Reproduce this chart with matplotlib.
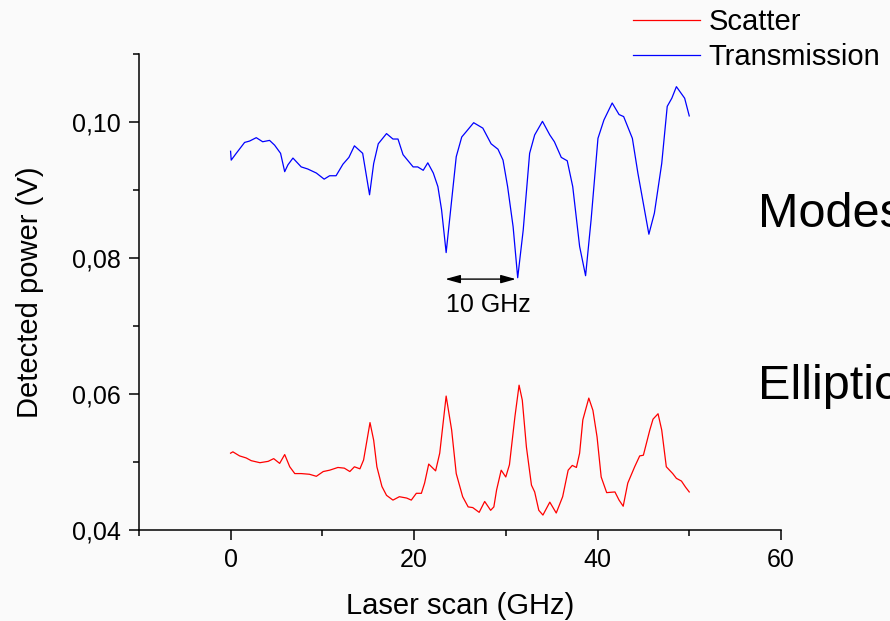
import numpy as np
import matplotlib
matplotlib.use("Agg")
import matplotlib.pyplot as plt
from matplotlib.ticker import MultipleLocator, FuncFormatter

# values
trans_x = [0.0, 0.07, 0.62, 1.53, 2.07, 2.8, 3.5, 4.25, 4.8, 5.45, 5.9, 6.25, 6.8, 7.7, 8.4,
           9.35, 10.2, 10.8, 11.5, 12.25, 12.9, 13.5, 14.4, 15.15, 15.6, 16.1, 17.0, 17.7,
           18.25, 18.8, 19.9, 20.4, 21.0, 21.5, 22.1, 22.6, 23.0, 23.5, 24.1, 24.6, 25.2,
           25.7, 26.5, 27.5, 28.4, 29.15, 29.7, 30.2, 30.8, 31.3, 31.9, 32.6, 33.15, 34.0,
           34.8, 35.3, 36.05, 36.7, 37.3, 38.05, 38.7, 39.3, 40.05, 40.7, 41.6, 42.35,
           42.85, 43.8, 44.4, 45.0, 45.6, 46.2, 47.0, 47.6, 48.1, 48.6, 49.5, 50.0]
trans_y = [0.0957, 0.0944, 0.0954, 0.0970, 0.0972, 0.0977, 0.0971, 0.0973, 0.0966, 0.0954,
           0.0927, 0.0937, 0.0947, 0.0934, 0.0931, 0.0925, 0.0916, 0.0921, 0.0921, 0.0938,
           0.0948, 0.0965, 0.0954, 0.0893, 0.0939, 0.0968, 0.0983, 0.0975, 0.0975, 0.0952,
           0.0934, 0.0934, 0.0929, 0.0940, 0.0925, 0.0905, 0.0871, 0.0808, 0.0885, 0.0949,
           0.0978, 0.0986, 0.0999, 0.0991, 0.0968, 0.0960, 0.0944, 0.0905, 0.0846, 0.0771,
           0.0841, 0.0954, 0.0981, 0.1001, 0.0981, 0.0971, 0.0948, 0.0943, 0.0905, 0.0817,
           0.0774, 0.0856, 0.0976, 0.1003, 0.1028, 0.1011, 0.1008, 0.0976, 0.0925, 0.0880,
           0.0835, 0.0866, 0.0939, 0.1023, 0.1035, 0.1052, 0.1035, 0.1009]

scat_x = [0.0, 0.25, 0.98, 1.7, 2.25, 3.2, 4.1, 4.7, 5.35, 5.9, 6.45, 7.0, 7.7, 8.6, 9.35,
          10.1, 10.8, 11.7, 12.4, 13.0, 13.5, 14.1, 14.5, 15.2, 15.6, 15.95, 16.5, 17.0,
          17.7, 18.4, 19.2, 19.7, 20.25, 20.8, 21.15, 21.6, 22.35, 22.8, 23.5, 24.1, 24.6,
          25.3, 25.9, 26.4, 27.1, 27.7, 28.35, 28.7, 29.0, 29.5, 30.0, 30.4, 31.0, 31.45,
          31.8, 32.25, 32.8, 33.15, 33.6, 34.05, 34.8, 35.5, 36.2, 36.8, 37.25, 37.7, 38.05,
          38.4, 39.05, 39.5, 39.95, 40.4, 41.0, 41.9, 42.35, 42.8, 43.3, 44.05, 44.6, 45.0,
          45.7, 46.05, 46.6, 47.0, 47.5, 48.2, 48.6, 49.15, 49.6, 50.0]
scat_y = [0.0513, 0.0515, 0.0509, 0.0506, 0.0502, 0.0499, 0.0501, 0.0505, 0.0498, 0.0511,
          0.0493, 0.0483, 0.0483, 0.0482, 0.0479, 0.0486, 0.0488, 0.0492, 0.0491, 0.0486,
          0.0493, 0.0490, 0.0503, 0.0558, 0.0532, 0.0493, 0.0464, 0.0451, 0.0444, 0.0449,
          0.0447, 0.0444, 0.0454, 0.0454, 0.0469, 0.0497, 0.0487, 0.0513, 0.0597, 0.0547,
          0.0483, 0.0449, 0.0434, 0.0433, 0.0426, 0.0442, 0.0429, 0.0434, 0.0459, 0.0488,
          0.0478, 0.0496, 0.0567, 0.0613, 0.0591, 0.0522, 0.0466, 0.0456, 0.0429, 0.0422,
          0.0441, 0.0425, 0.0449, 0.0488, 0.0495, 0.0492, 0.0513, 0.0562, 0.0594, 0.0576,
          0.0537, 0.0478, 0.0455, 0.0456, 0.0444, 0.0435, 0.0469, 0.0493, 0.0509, 0.0510,
          0.0547, 0.0563, 0.0571, 0.0547, 0.0493, 0.0483, 0.0476, 0.0472, 0.0463, 0.0456]

arrow_span = [23.4, 31.1]
arrow_y = 0.0769
label_pos = (28.1, 0.0721)

plt.rcParams['font.family'] = ['Liberation Sans', 'DejaVu Sans']
bg = '#fafafa'

fig = plt.figure(figsize=(8.9, 6.21), dpi=100, facecolor=bg)
ax = fig.add_axes([0.156, 0.1465, 0.7215, 0.7665], facecolor=bg)

ax.plot(scat_x, scat_y, color='#ff0000', lw=0.9, label='Scatter')
ax.plot(trans_x, trans_y, color='#0000ff', lw=0.9, label='Transmission')

ax.set_xlim(-10, 60)
ax.set_ylim(0.04, 0.11)
for s in ['top', 'right']:
    ax.spines[s].set_visible(False)
for s in ['left', 'bottom']:
    ax.spines[s].set_linewidth(1.1)

ax.set_xticks([0, 20, 40, 60])
ax.xaxis.set_minor_locator(MultipleLocator(10))
ax.set_yticks([0.04, 0.06, 0.08, 0.10])
ax.yaxis.set_minor_locator(MultipleLocator(0.01))
ax.yaxis.set_major_formatter(FuncFormatter(lambda v, p: f'{v:.2f}'.replace('.', ',')))
ax.tick_params(which='major', direction='out', length=7, width=1.1, labelsize=18, pad=6)
ax.tick_params(which='minor', direction='out', length=4, width=1.1)

ax.set_xlabel('Laser scan (GHz)', fontsize=21, labelpad=14)
ax.set_ylabel('Detected power (V)', fontsize=21, labelpad=20)

ax.annotate('', xy=(arrow_span[0], arrow_y), xytext=(arrow_span[1], arrow_y),
            arrowprops=dict(arrowstyle='<|-|>,head_length=0.9,head_width=0.25',
                            color='black', lw=1, mutation_scale=10, shrinkA=0, shrinkB=0))
ax.text(label_pos[0], label_pos[1], '10 GHz', fontsize=18, ha='center', va='baseline')

# side labels run past the right edge, as in the reference
fig.text(758 / 890, 1 - 227 / 621, 'Modes', fontsize=35, ha='left', va='baseline')
fig.text(758 / 890, 1 - 399 / 621, 'Elliptic', fontsize=35, ha='left', va='baseline')

fig.legend(loc='upper left', bbox_to_anchor=(633 / 890, 0.987), frameon=False,
           fontsize=21, borderpad=0, borderaxespad=0, handlelength=2.3,
           handletextpad=0.3, labelspacing=0.24)

fig.savefig('out.png', dpi=100, facecolor=bg)
